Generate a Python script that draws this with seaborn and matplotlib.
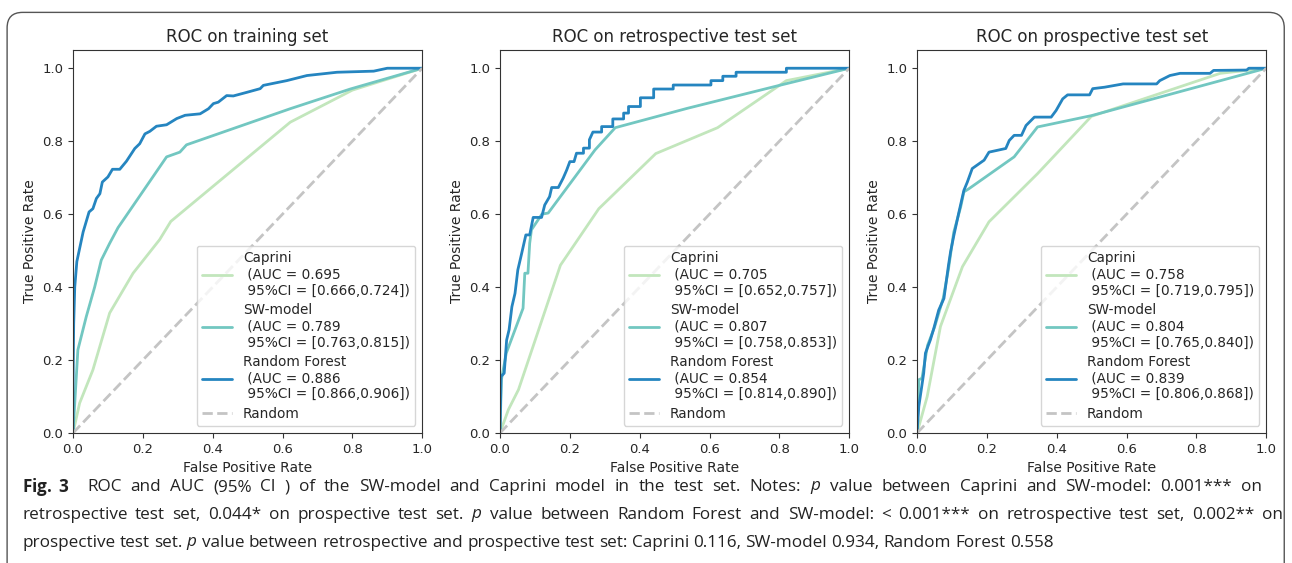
import numpy as np
import pandas as pd
import seaborn as sns
import matplotlib.pyplot as plt
from matplotlib.patches import FancyBboxPatch

panels = ['ROC on training set', 'ROC on retrospective test set', 'ROC on prospective test set']
models = ['Caprini', 'SW-model', 'Random Forest']
colors = ['#c2e6bc', '#72c7c1', '#2585c0']

auc = [['0.695', '0.789', '0.886'], ['0.705', '0.807', '0.854'], ['0.758', '0.804', '0.839']]
ci = [['[0.666,0.724]', '[0.763,0.815]', '[0.866,0.906]'],
      ['[0.652,0.757]', '[0.758,0.853]', '[0.814,0.890]'],
      ['[0.719,0.795]', '[0.765,0.840]', '[0.806,0.868]']]

# training set
train_cap_fpr = [0.0, 0.019, 0.057, 0.105, 0.172, 0.248, 0.28, 0.622, 0.8, 1.0]
train_cap_tpr = [0.0, 0.082, 0.173, 0.329, 0.438, 0.53, 0.58, 0.852, 0.94, 1.0]
train_sw_fpr = [0.0, 0.014, 0.038, 0.062, 0.081, 0.105, 0.129, 0.268, 0.306, 0.325, 0.622, 0.794, 1.0]
train_sw_tpr = [0.0, 0.228, 0.319, 0.40, 0.474, 0.52, 0.563, 0.757, 0.77, 0.79, 0.889, 0.943, 1.0]
train_rf_fpr = [0.0, 0.0, 0.002, 0.005, 0.011, 0.017, 0.029, 0.046, 0.057, 0.067, 0.077, 0.084, 0.1, 0.113,
                0.134, 0.153, 0.177, 0.191, 0.206, 0.22, 0.239, 0.268, 0.297, 0.321, 0.364, 0.388, 0.402,
                0.416, 0.44, 0.459, 0.498, 0.536, 0.545, 0.612, 0.67, 0.756, 0.861, 0.9, 1.0]
train_rf_tpr = [0.0, 0.12, 0.3, 0.4, 0.47, 0.497, 0.551, 0.606, 0.615, 0.643, 0.656, 0.688, 0.702, 0.723,
                0.723, 0.745, 0.78, 0.793, 0.82, 0.827, 0.841, 0.845, 0.862, 0.871, 0.875, 0.889, 0.903,
                0.907, 0.925, 0.924, 0.934, 0.944, 0.953, 0.966, 0.98, 0.989, 0.992, 1.0, 1.0]

# retrospective test set
retro_cap_fpr = [0.0, 0.024, 0.053, 0.173, 0.283, 0.446, 0.623, 0.82, 1.0]
retro_cap_tpr = [0.0, 0.064, 0.119, 0.46, 0.615, 0.766, 0.837, 0.966, 1.0]
retro_sw_fpr = [0.0, 0.004, 0.018, 0.066, 0.071, 0.08, 0.085, 0.09, 0.12, 0.138, 0.272, 0.311, 0.33, 0.536, 0.8, 1.0]
retro_sw_tpr = [0.0, 0.146, 0.219, 0.342, 0.438, 0.438, 0.52, 0.557, 0.6, 0.603, 0.776, 0.817, 0.837, 0.89, 0.953, 1.0]
retro_rf_fpr = [0.0, 0.003, 0.012, 0.019, 0.026, 0.034, 0.043, 0.051, 0.061, 0.074, 0.085, 0.095, 0.119, 0.128,
                0.142, 0.148, 0.167, 0.181, 0.191, 0.2, 0.212, 0.219, 0.239, 0.239, 0.256, 0.256, 0.266,
                0.291, 0.291, 0.323, 0.323, 0.354, 0.354, 0.368, 0.368, 0.402, 0.402, 0.44, 0.44, 0.496,
                0.496, 0.604, 0.604, 0.638, 0.638, 0.676, 0.676, 0.82, 0.82, 1.0]
retro_rf_tpr = [0.0, 0.155, 0.164, 0.255, 0.283, 0.346, 0.383, 0.447, 0.488, 0.543, 0.543, 0.591, 0.591, 0.625,
                0.648, 0.673, 0.673, 0.699, 0.721, 0.744, 0.744, 0.767, 0.767, 0.781, 0.781, 0.804, 0.825,
                0.825, 0.84, 0.84, 0.861, 0.861, 0.877, 0.877, 0.895, 0.895, 0.919, 0.919, 0.943, 0.943,
                0.954, 0.954, 0.966, 0.966, 0.978, 0.978, 0.989, 0.989, 1.0, 1.0]

# prospective test set
prosp_cap_fpr = [0.0, 0.029, 0.067, 0.13, 0.206, 0.345, 0.499, 0.868, 1.0]
prosp_cap_tpr = [0.0, 0.1, 0.292, 0.456, 0.579, 0.711, 0.868, 0.986, 1.0]
prosp_sw_fpr = [0.0, 0.005, 0.014, 0.03, 0.05, 0.075, 0.09, 0.105, 0.125, 0.134, 0.149, 0.278, 0.345, 0.499, 1.0]
prosp_sw_tpr = [0.0, 0.146, 0.15, 0.24, 0.29, 0.37, 0.45, 0.55, 0.62, 0.661, 0.67, 0.757, 0.839, 0.87, 1.0]
prosp_rf_fpr = [0.0, 0.005, 0.019, 0.024, 0.038, 0.048, 0.062, 0.077, 0.09, 0.096, 0.105, 0.12, 0.134, 0.144,
                0.158, 0.192, 0.206, 0.254, 0.264, 0.278, 0.299, 0.312, 0.336, 0.384, 0.398, 0.417, 0.431,
                0.494, 0.503, 0.537, 0.59, 0.686, 0.695, 0.724, 0.753, 0.839, 0.849, 0.944, 0.95, 1.0]
prosp_rf_tpr = [0.0, 0.073, 0.164, 0.219, 0.255, 0.287, 0.337, 0.369, 0.46, 0.497, 0.54, 0.606, 0.665, 0.688,
                0.725, 0.748, 0.77, 0.78, 0.802, 0.816, 0.816, 0.843, 0.866, 0.866, 0.884, 0.916, 0.927,
                0.927, 0.944, 0.948, 0.957, 0.957, 0.966, 0.98, 0.986, 0.986, 0.994, 0.995, 1.0, 1.0]

curves = [
    [(train_cap_fpr, train_cap_tpr), (train_sw_fpr, train_sw_tpr), (train_rf_fpr, train_rf_tpr)],
    [(retro_cap_fpr, retro_cap_tpr), (retro_sw_fpr, retro_sw_tpr), (retro_rf_fpr, retro_rf_tpr)],
    [(prosp_cap_fpr, prosp_cap_tpr), (prosp_sw_fpr, prosp_sw_tpr), (prosp_rf_fpr, prosp_rf_tpr)],
]

caption = [
    r'$\mathbf{Fig.\;3}$  ROC and AUC (95% CI ) of the SW-model and Caprini model in the test set. Notes: $\it{p}$ value between Caprini and SW-model: 0.001*** on',
    r'retrospective test set, 0.044* on prospective test set. $\it{p}$ value between Random Forest and SW-model: < 0.001*** on retrospective test set, 0.002** on',
    r'prospective test set. $\it{p}$ value between retrospective and prospective test set: Caprini 0.116, SW-model 0.934, Random Forest 0.558',
]

sns.set_style('ticks')
plt.rcParams['font.family'] = ['DejaVu Sans']
plt.rcParams['mathtext.fontset'] = 'custom'
plt.rcParams['mathtext.rm'] = 'Open Sans'
plt.rcParams['mathtext.it'] = 'Open Sans:italic'
plt.rcParams['mathtext.bf'] = 'Open Sans:bold'

W, H = 1292, 563
fig = plt.figure(figsize=(W / 100, H / 100), dpi=100)
lefts = [0.0565, 0.387, 0.7098]

for i, title in enumerate(panels):
    ax = fig.add_axes([lefts[i], 0.2309, 0.2703, 0.6803])
    for j, model in enumerate(models):
        fpr, tpr = curves[i][j]
        df = pd.DataFrame({'fpr': fpr, 'tpr': tpr})
        label = f'{model}\n (AUC = {auc[i][j]}\n 95%CI = {ci[i][j]})'
        sns.lineplot(x='fpr', y='tpr', data=df, sort=False, estimator=None, ax=ax,
                     color=colors[j], lw=2, label=label)
    sns.lineplot(x=[0, 1], y=[0, 1], ax=ax, color='#c4c4c4', lw=2, ls='--', label='Random')
    ax.set_xlim(0, 1)
    ax.set_ylim(0, 1.05)
    ax.set_xticks(np.linspace(0, 1, 6))
    ax.set_yticks(np.linspace(0, 1, 6))
    ax.tick_params(labelsize=9.5, length=3.5, color='#333333')
    for s in ax.spines.values():
        s.set_color('#333333')
    ax.set_title(title, fontsize=12)
    ax.set_xlabel('False Positive Rate', fontsize=10)
    ax.set_ylabel('True Positive Rate', fontsize=10)
    ax.legend(loc='lower right', fontsize=9.8, handlelength=2.2, labelspacing=0.4,
              frameon=True, borderpad=0.4)

frame = FancyBboxPatch((0.0055, -0.05), 0.9885, 1.028, boxstyle='round,pad=0,rounding_size=0.012',
                       transform=fig.transFigure, fill=False, ec='#555555', lw=1.0, mutation_aspect=2.3)
fig.patches.append(frame)

# caption: first two lines justified, last one ragged
renderer = fig.canvas.get_renderer()
line_ends = [1262, 1283, None]
x_start = 22
for k, line in enumerate(caption):
    y = 1 - (487 + 28 * k) / H
    kw = dict(fontsize=12.3, family='Open Sans', va='center', ha='left', color='#222222')
    full = fig.text(0, y, line, **kw)
    full_w = full.get_window_extent(renderer).width
    full.remove()
    words = line.split(' ')
    texts = [fig.text(0, y, w, **kw) for w in words]
    widths = [t.get_window_extent(renderer).width if w else 0 for t, w in zip(texts, words)]
    if line_ends[k] is None:
        gap = (full_w - sum(widths)) / (len(words) - 1)
    else:
        gap = (line_ends[k] - x_start - sum(widths)) / (len(words) - 1)
    x = x_start
    for t, w in zip(texts, widths):
        t.set_x(x / W)
        x += w + gap

plt.savefig('out.png', dpi=100)
